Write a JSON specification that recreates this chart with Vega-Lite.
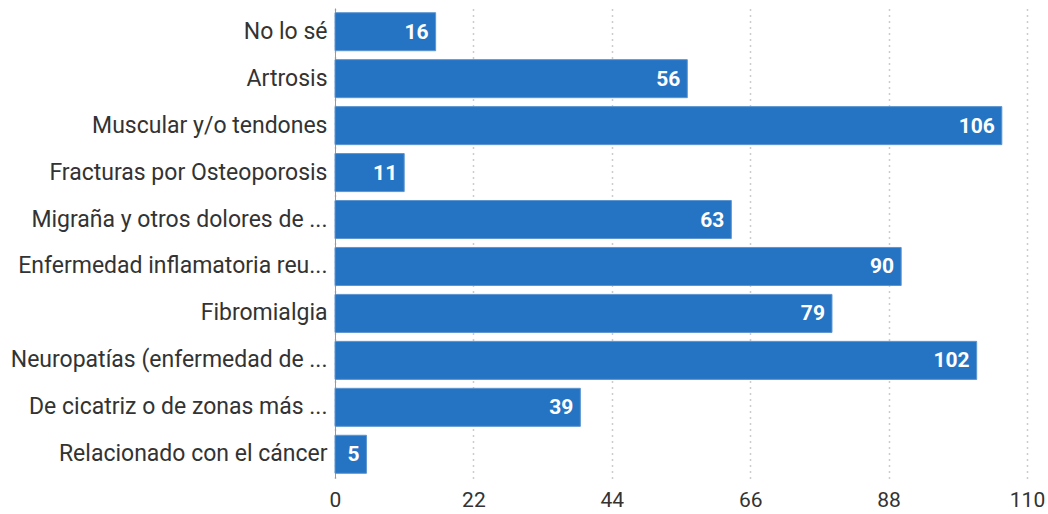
{
  "$schema": "https://vega.github.io/schema/vega-lite/v6.json",
  "width": 692,
  "height": 470,
  "autosize": {"type": "none"},
  "padding": {"left": 335, "top": 8, "right": 21, "bottom": 36},
  "background": "white",
  "config": {"view": {"stroke": null}, "font": "Roboto"},
  "data": {"values": [
    {"cat": "No lo sé", "v": 16},
    {"cat": "Artrosis", "v": 56},
    {"cat": "Muscular y/o tendones", "v": 106},
    {"cat": "Fracturas por Osteoporosis", "v": 11},
    {"cat": "Migraña y otros dolores de ...", "v": 63},
    {"cat": "Enfermedad inflamatoria reu...", "v": 90},
    {"cat": "Fibromialgia", "v": 79},
    {"cat": "Neuropatías (enfermedad de ...", "v": 102},
    {"cat": "De cicatriz o de zonas más ...", "v": 39},
    {"cat": "Relacionado con el cáncer", "v": 5}
  ]},
  "encoding": {
    "y": {"field": "cat", "type": "nominal", "sort": null,
      "scale": {"paddingInner": 0.19, "paddingOuter": 0.1},
      "axis": {"title": null, "ticks": false, "labelFontSize": 23, "labelColor": "#333333", "labelPadding": 8, "labelLimit": 400, "domainColor": "#999999", "domainWidth": 1}},
    "x": {"field": "v", "type": "quantitative",
      "scale": {"domain": [0, 110], "nice": false},
      "axis": {"title": null, "values": [0, 22, 44, 66, 88, 110], "ticks": false, "domain": false, "labelFlush": false, "labelFontSize": 21, "labelColor": "#333333", "labelPadding": 11, "gridDash": [1, 5], "gridColor": "#999999", "gridWidth": 1.5}}
  },
  "layer": [
    {"mark": {"type": "bar", "color": "#2574c4", "stroke": "#5d95d0", "strokeWidth": 1}},
    {"mark": {"type": "text", "align": "right", "dx": -7, "color": "white", "fontWeight": "bold", "fontSize": 21, "baseline": "middle", "dy": 1},
      "encoding": {"text": {"field": "v"}}}
  ]
}
